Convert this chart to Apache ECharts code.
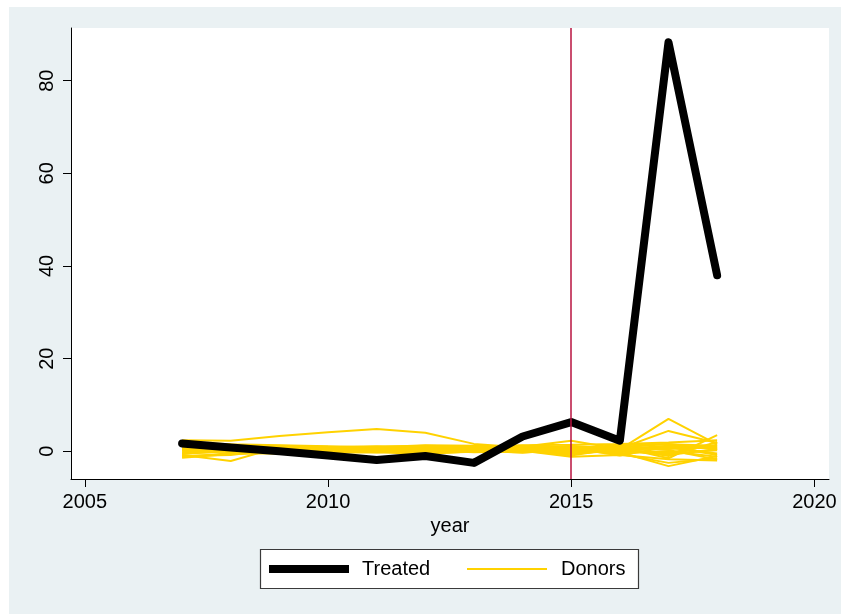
<!DOCTYPE html>
<html>
<head>
<meta charset="utf-8">
<script src="https://cdn.jsdelivr.net/npm/echarts@6/dist/echarts.min.js"></script>
<style>
html,body{margin:0;padding:0;background:#fff;}
#c{width:841px;height:614px;}
</style>
</head>
<body>
<div id="c"></div>
<script>
const years = [2007,2008,2009,2010,2011,2012,2013,2014,2015,2016,2017,2018];
const treated = [1.7,0.8,0.0,-0.9,-1.9,-1.0,-2.5,3.2,6.3,2.3,88.3,38.0];
const donor1  = [2.4,2.3,3.3,4.1,4.8,4.0,1.6,0.8,0.5,0.3,1.0,0.6];
const donor2  = [-0.8,-2.1,0.9,0.3,0.5,0.8,0.2,0.4,-0.5,0.3,-0.8,0.5];
const donor3  = [0.5,0.3,0.6,0.7,0.8,1.0,0.6,0.5,1.2,0.4,7.0,1.5];
const donor4  = [0.2,0.5,0.4,0.5,0.6,0.7,0.3,0.8,0.9,0.6,4.4,1.8];
const donor5  = [-0.5,0.0,-0.3,0.2,0.1,-0.2,0.4,0.2,0.0,-0.2,-3.2,-1.0];
const donor6  = [1.0,0.8,0.7,0.9,1.1,0.9,0.8,1.0,0.6,0.9,-1.5,3.5];
const donor7  = [0.8,1.1,1.2,1.0,0.9,1.3,1.2,1.0,2.3,0.5,1.2,0.8];
const donor8  = [-1.4,-0.6,-0.2,0.0,0.3,-0.4,-0.1,0.1,-1.2,-0.8,-1.7,-2.0];
const donor9  = [2.0,1.5,1.3,1.1,0.9,1.2,1.0,1.3,1.4,1.6,1.9,2.4];
const donor10 = [0.0,0.2,0.1,0.3,0.2,0.4,0.1,0.3,0.2,0.0,-0.5,0.2];
const donor11 = [-1.0,-0.8,0.5,0.4,0.6,0.5,0.7,0.6,0.8,1.0,1.5,1.2];
const donor12 = [0.3,0.9,0.8,0.6,0.7,0.6,0.5,0.9,0.4,-0.6,-2.5,-1.5];
const donor13 = [1.2,0.4,0.3,0.5,0.4,0.2,0.6,0.7,0.3,1.2,0.5,1.0];
const donor14 = [-0.3,0.6,1.0,0.8,0.5,0.3,-0.2,0.0,-0.6,0.2,0.8,-0.5];
const donor15 = [0.6,-0.2,0.0,-0.1,0.0,0.1,0.2,-0.3,0.5,1.4,1.6,0.4];
const donor16 = [1.8,1.0,0.5,0.2,-0.2,0.0,0.9,0.6,1.0,-0.4,0.0,-1.2];
const donor17 = [-0.6,0.1,0.2,0.1,-0.1,0.3,0.4,0.5,-0.9,0.7,-1.0,2.0];
const donor18 = [0.9,0.7,0.9,0.4,0.3,0.8,0.9,1.2,0.7,-0.9,1.0,-0.8];
const donor19 = [-1.2,-0.4,-0.5,-0.3,-0.2,-0.6,0.0,-0.2,0.1,0.3,-0.3,1.4];
const donor20 = [0.4,1.3,0.6,0.9,1.0,1.1,0.5,0.2,-0.2,0.8,0.3,-1.8];
const donors = [donor1,donor2,donor3,donor4,donor5,donor6,donor7,donor8,donor9,donor10,
                donor11,donor12,donor13,donor14,donor15,donor16,donor17,donor18,donor19,donor20];
const xTicks = [2005,2010,2015,2020];
const yTicks = [0,20,40,60,80];
const treatYear = 2015;

const FONT = 'Liberation Sans, Arial, sans-serif';
const GOLD = '#FFD200';

function pairs(vals){ return years.map((y,i)=>[y, vals[i]]); }

const series = [];
series.push({
  name: 'cutoff', type: 'line', data: [], z: 1, silent: true,
  markLine: {
    silent: true, symbol: 'none', label: {show: false},
    lineStyle: {color: '#B8123F', width: 1.5, type: 'solid'},
    data: [{xAxis: treatYear}]
  }
});
donors.forEach((d, i) => {
  series.push({
    name: 'Donors', type: 'line', data: pairs(d), symbol: 'none', z: 2,
    lineStyle: {color: GOLD, width: 2}, itemStyle: {color: GOLD},
    emphasis: {disabled: true}, animation: false
  });
});
series.push({
  name: 'Treated', type: 'line', data: pairs(treated), symbol: 'none', z: 3,
  lineStyle: {color: '#000', width: 8, cap: 'round', join: 'round'}, itemStyle: {color: '#000'},
  emphasis: {disabled: true}, animation: false
});

const chart = echarts.init(document.getElementById('c'), null, {renderer: 'canvas'});
chart.setOption({
  animation: false,
  backgroundColor: 'transparent',
  textStyle: {fontFamily: FONT},
  graphic: [
    {type: 'rect', z: -10, shape: {x: 9, y: 7, width: 832, height: 607}, style: {fill: '#EAF1F3'}, silent: true},
    {type: 'rect', z: 10, shape: {x: 260.5, y: 549.5, width: 378, height: 39}, style: {fill: '#fff', stroke: '#3a3a3a', lineWidth: 1.2}, silent: true}
  ],
  grid: {left: 71, right: 12, top: 28, bottom: 135, show: true, backgroundColor: '#fff', borderWidth: 0},
  xAxis: {
    type: 'value', min: 2004.716, max: 2020.30,
    name: 'year', nameLocation: 'middle', nameGap: 37,
    nameTextStyle: {fontSize: 20, color: '#000', fontFamily: FONT},
    axisLine: {show: true, onZero: false, lineStyle: {color: '#000', width: 1}},
    axisTick: {show: true, length: 8, customValues: xTicks, lineStyle: {color: '#000'}},
    axisLabel: {customValues: xTicks, fontSize: 20, color: '#000', margin: 13, fontFamily: FONT, formatter: v => String(v)},
    splitLine: {show: false}
  },
  yAxis: {
    type: 'value', min: -5.98, max: 91.37,
    axisLine: {show: true, onZero: false, lineStyle: {color: '#000', width: 1}},
    axisTick: {show: true, length: 8, customValues: yTicks, lineStyle: {color: '#000'}},
    axisLabel: {customValues: yTicks, fontSize: 20, color: '#000', rotate: 90, margin: 14, fontFamily: FONT},
    splitLine: {show: false}
  },
  legend: [
    {
      z: 20, left: 269, top: 559, padding: 0, itemWidth: 80, itemHeight: 8,
      data: [{name: 'Treated', icon: 'rect', itemStyle: {color: '#000'}}],
      textStyle: {fontSize: 20, color: '#000', fontFamily: FONT, padding: [0, 0, 0, 8]},
      selectedMode: false
    },
    {
      z: 20, left: 467, top: 559, padding: 0, itemWidth: 80, itemHeight: 2,
      data: [{name: 'Donors', icon: 'rect', itemStyle: {color: GOLD}}],
      textStyle: {fontSize: 20, color: '#000', fontFamily: FONT, padding: [0, 0, 0, 9]},
      selectedMode: false
    }
  ],
  series: series
});
</script>
</body>
</html>
